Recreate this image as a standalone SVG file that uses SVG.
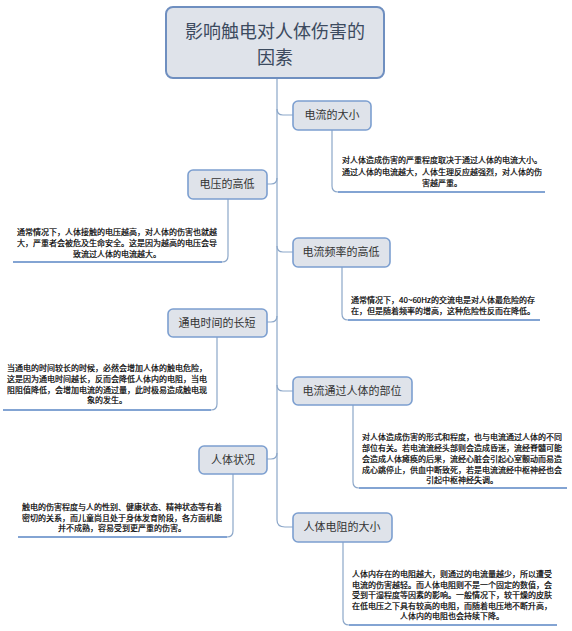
<svg xmlns="http://www.w3.org/2000/svg" width="572" height="631" viewBox="0 0 572 631">
<style>
.box{fill:#dfe3ea;stroke:#7c9fd0;stroke-width:1.6}
.lbl{font-family:"Noto Sans CJK SC","Noto Sans",sans-serif;font-size:11px;fill:#333;text-anchor:middle}
.ttl{font-family:"Noto Sans CJK SC","Noto Sans",sans-serif;font-size:18px;fill:#3c4a5e;text-anchor:middle}
.txt{font-family:"Noto Sans CJK SC","Noto Sans",sans-serif;font-size:8px;fill:#000;stroke:#000;stroke-width:0.2;text-anchor:middle}
.con{fill:none;stroke:#8ca7c9;stroke-width:1.2}
.ul{fill:none;stroke:#5a86c5;stroke-width:1.6}
</style>
<rect width="572" height="631" fill="#ffffff"/>
<g id="connectors">
<path class="con" d="M277,78 V520 Q277,527 285,527 H293"/>
<path class="con" d="M277,109 Q277,115 283,115 H293"/>
<path class="con" d="M277,246 Q277,252 283,252 H293"/>
<path class="con" d="M277,385 Q277,391 283,391 H293"/>
<path class="con" d="M267,184 H271 Q277,184 277,178"/>
<path class="con" d="M267,322 H271 Q277,322 277,316"/>
<path class="con" d="M267,459 H271 Q277,459 277,453"/>
<path class="con" d="M332,130 V186 Q332,192 338,192"/>
<path class="con" d="M228,199 V256 Q228,262 222,262"/>
<path class="con" d="M342,267 V314 Q342,320 348,320"/>
<path class="con" d="M217,337 V404 Q217,410 211,410"/>
<path class="con" d="M353,405 V482 Q353,488 359,488"/>
<path class="con" d="M233,474 V531 Q233,537 227,537"/>
<path class="con" d="M343,542 V619 Q343,625 349,625"/>
<path class="ul" d="M338,192 H545"/>
<path class="ul" d="M13,262 H222"/>
<path class="ul" d="M348,320 H540"/>
<path class="ul" d="M3,410 H211"/>
<path class="ul" d="M359,488 H567"/>
<path class="ul" d="M18,537 H227"/>
<path class="ul" d="M349,625 H557"/>
</g>
<g id="title">
<rect class="box" x="166" y="7" width="218" height="71" rx="7" style="stroke:#6f8fc0;stroke-width:2"/>
<text class="ttl" x="275" y="38">影响触电对人体伤害的</text>
<text class="ttl" x="275" y="64">因素</text>
</g>
<g id="n1">
<rect class="box" x="293" y="101" width="78" height="29" rx="5"/>
<text class="lbl" x="332" y="119">电流的大小</text>
<text class="txt" x="442" y="163">对人体造成伤害的严重程度取决于通过人体的电流大小。</text>
<text class="txt" x="442" y="175">通过人体的电流越大，人体生理反应越强烈，对人体的伤</text>
<text class="txt" x="442" y="186">害越严重。</text>
</g>
<g id="n2">
<rect class="box" x="188" y="170" width="79" height="29" rx="5"/>
<text class="lbl" x="227" y="188">电压的高低</text>
<text class="txt" x="117" y="235">通常情况下，人体接触的电压越高，对人体的伤害也就越</text>
<text class="txt" x="117" y="246">大，严重者会被危及生命安全。这是因为越高的电压会导</text>
<text class="txt" x="117" y="257">致流过人体的电流越大。</text>
</g>
<g id="n3">
<rect class="box" x="293" y="238" width="97" height="29" rx="5"/>
<text class="lbl" x="341" y="256">电流频率的高低</text>
<text class="txt" x="443" y="303">通常情况下，40~60Hz的交流电是对人体最危险的存</text>
<text class="txt" x="443" y="314">在，但是随着频率的增高，这种危险性反而在降低。</text>
</g>
<g id="n4">
<rect class="box" x="168" y="309" width="99" height="28" rx="5"/>
<text class="lbl" x="217" y="327">通电时间的长短</text>
<text class="txt" x="107" y="371">当通电的时间较长的时候，必然会增加人体的触电危险，</text>
<text class="txt" x="107" y="382">这是因为通电时间越长，反而会降低人体内的电阻，当电</text>
<text class="txt" x="107" y="393">阻阻值降低，会增加电流的通过量，此时极易造成触电现</text>
<text class="txt" x="107" y="403">象的发生。</text>
</g>
<g id="n5">
<rect class="box" x="293" y="377" width="119" height="28" rx="5"/>
<text class="lbl" x="352" y="395">电流通过人体的部位</text>
<text class="txt" x="462" y="440">对人体造成伤害的形式和程度，也与电流通过人体的不同</text>
<text class="txt" x="462" y="451">部位有关。若电流流经头部则会造成昏迷，流经脊髓可能</text>
<text class="txt" x="462" y="462">会造成人体瘫痪的后果，流经心脏会引起心室颤动而易造</text>
<text class="txt" x="462" y="473">成心跳停止，供血中断致死，若是电流流经中枢神经也会</text>
<text class="txt" x="462" y="483">引起中枢神经失调。</text>
</g>
<g id="n6">
<rect class="box" x="199" y="446" width="68" height="28" rx="5"/>
<text class="lbl" x="233" y="464">人体状况</text>
<text class="txt" x="122" y="510">触电的伤害程度与人的性别、健康状态、精神状态等有着</text>
<text class="txt" x="122" y="521">密切的关系，而儿童尚且处于身体发育阶段，各方面机能</text>
<text class="txt" x="122" y="531">并不成熟，容易受到更严重的伤害。</text>
</g>
<g id="n7">
<rect class="box" x="293" y="513" width="99" height="29" rx="5"/>
<text class="lbl" x="342" y="531">人体电阻的大小</text>
<text class="txt" x="452" y="577">人体内存在的电阻越大，则通过的电流量越少，所以遭受</text>
<text class="txt" x="452" y="588">电流的伤害越轻。而人体电阻则不是一个固定的数值，会</text>
<text class="txt" x="452" y="598">受到干湿程度等因素的影响。一般情况下，较干燥的皮肤</text>
<text class="txt" x="452" y="609">在低电压之下具有较高的电阻，而随着电压地不断升高，</text>
<text class="txt" x="452" y="619">人体内的电阻也会持续下降。</text>
</g>
</svg>
